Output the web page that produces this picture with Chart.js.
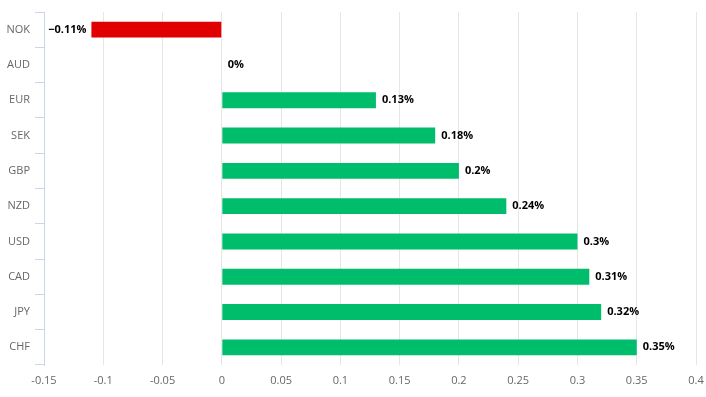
<!DOCTYPE html>
<html><head><meta charset="utf-8">
<script src="https://cdn.jsdelivr.net/npm/chart.js@4"></script>
<style>html,body{margin:0;padding:0;background:#fff}#wrap{width:706px;height:397px}</style>
</head><body><div id="wrap"><canvas id="c" width="706" height="397"></canvas></div>
<script>
const categories = ["NOK","AUD","EUR","SEK","GBP","NZD","USD","CAD","JPY","CHF"];
const values = [-0.11, 0, 0.13, 0.18, 0.2, 0.24, 0.3, 0.31, 0.32, 0.35];
const xTicks = [-0.15,-0.1,-0.05,0,0.05,0.1,0.15,0.2,0.25,0.3,0.35,0.4];

const fmt = v => (v < 0 ? "\u2212" + String(Math.abs(v)) : String(v)) + "%";

const labelPlugin = {
  id: 'barLabels',
  afterDatasetsDraw(chart) {
    const ctx = chart.ctx;
    const meta = chart.getDatasetMeta(0);
    ctx.save();
    ctx.font = "bold 11px 'Open Sans', sans-serif";
    ctx.fillStyle = "#000";
    ctx.textBaseline = "middle";
    meta.data.forEach((el, i) => {
      const v = values[i];
      if (v < 0) { ctx.textAlign = "right"; ctx.fillText(fmt(v), el.x - 5, el.y); }
      else { ctx.textAlign = "left"; ctx.fillText(fmt(v), el.x + 6, el.y); }
    });
    ctx.restore();
  }
};

new Chart(document.getElementById('c'), {
  type: 'bar',
  data: {
    labels: categories,
    datasets: [{
      data: values,
      backgroundColor: values.map(v => v < 0 ? '#e00000' : '#00bd6c'),
      barPercentage: 0.45,
      categoryPercentage: 1.0
    }]
  },
  options: {
    indexAxis: 'y',
    responsive: false,
    animation: false,
    layout: { padding: { top: 12, right: 10, left: 0, bottom: 0 } },
    plugins: { legend: { display: false }, tooltip: { enabled: false } },
    scales: {
      x: {
        min: -0.15, max: 0.4,
        afterBuildTicks: s => { s.ticks = xTicks.map(v => ({ value: v })); },
        afterFit: s => { s.height = 32; s.paddingLeft = 0; s.paddingRight = 0; },
        border: { display: false },
        grid: { color: '#e6e6e6', drawTicks: false, tickLength: 0 },
        ticks: {
          padding: 9, color: '#666',
          font: { family: "'Open Sans', sans-serif", size: 11 },
          callback: v => String(Math.round(v * 100) / 100)
        }
      },
      y: {
        afterFit: s => { s.width = 44; s.paddingTop = 0; s.paddingBottom = 0; },
        border: { display: true, color: '#ccd6eb' },
        grid: { offset: true, drawOnChartArea: false, drawTicks: true, tickLength: 9, color: '#ccd6eb' },
        ticks: { padding: 5, color: '#666', font: { family: "'Open Sans', sans-serif", size: 11 } }
      }
    }
  },
  plugins: [labelPlugin]
});
</script></body></html>
